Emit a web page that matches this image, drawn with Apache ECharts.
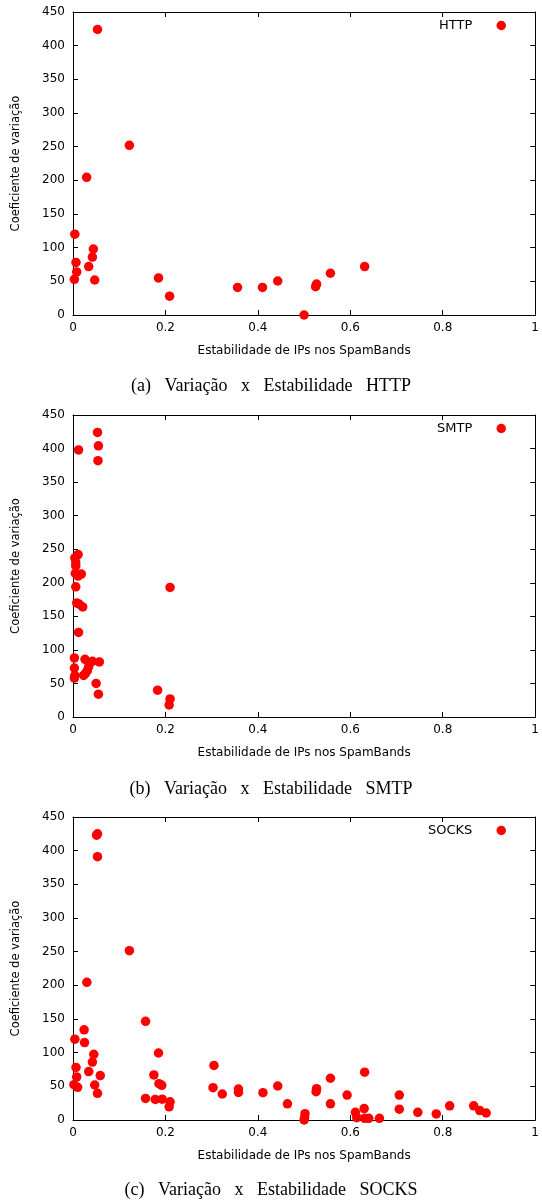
<!DOCTYPE html>
<html>
<head>
<meta charset="utf-8">
<script src="https://cdn.jsdelivr.net/npm/echarts@6/dist/echarts.min.js"></script>
<style>
  html, body { margin: 0; padding: 0; background: #fff; }
  #main { width: 542px; height: 1202px; }
</style>
</head>
<body>
<div id="main"></div>
<script>
// [estabilidade, coeficiente]
var httpPoints = [
  [0.053, 424], [0.122, 252], [0.0295, 204.5], [0.004, 120], [0.044, 98],
  [0.042, 86], [0.0065, 78], [0.034, 72], [0.008, 64], [0.003, 53],
  [0.047, 52], [0.185, 55], [0.209, 28], [0.356, 41], [0.41, 41],
  [0.443, 50.5], [0.5, 0], [0.527, 46], [0.525, 42], [0.557, 62], [0.631, 72]
];
var smtpPoints = [
  [0.053, 424], [0.055, 404], [0.054, 382], [0.012, 398],
  [0.004, 237], [0.011, 242], [0.006, 230], [0.006, 225], [0.005, 214],
  [0.018, 213], [0.011, 210], [0.006, 194], [0.21, 193],
  [0.008, 170], [0.0135, 168], [0.021, 164], [0.012, 126],
  [0.003, 88], [0.003, 73], [0.003, 58], [0.004, 62],
  [0.026, 86], [0.042, 83], [0.057, 82],
  [0.034, 75], [0.031, 69], [0.023, 62], [0.027, 65],
  [0.05, 50], [0.055, 34], [0.183, 40], [0.21, 27], [0.208, 18]
];
var socksPoints = [
  [0.053, 425], [0.051, 423], [0.053, 391], [0.122, 251.5], [0.030, 204.5],
  [0.157, 146.6], [0.024, 134], [0.004, 120], [0.025, 115], [0.045, 97.5],
  [0.185, 99.5], [0.042, 86], [0.0065, 78], [0.034, 72], [0.059, 66],
  [0.008, 64], [0.175, 67], [0.305, 81], [0.002, 52.5], [0.01, 48.5],
  [0.047, 52], [0.053, 39.6], [0.186, 54], [0.192, 51.5], [0.157, 32],
  [0.178, 30.6], [0.193, 31], [0.21, 27], [0.208, 19.5], [0.303, 48],
  [0.323, 38.6], [0.358, 46], [0.358, 41], [0.411, 40.6], [0.443, 50.5],
  [0.464, 24], [0.502, 9.4], [0.5, 0], [0.501, 3], [0.527, 46.5],
  [0.526, 42], [0.557, 62], [0.557, 24], [0.593, 37], [0.611, 11.4],
  [0.614, 3.5], [0.63, 17], [0.631, 71], [0.631, 2.5], [0.64, 2.5],
  [0.663, 2.5], [0.706, 37], [0.706, 16], [0.746, 11.4], [0.786, 9],
  [0.815, 21], [0.867, 21], [0.88, 14], [0.894, 10.4]
];
var seriesNames = ['HTTP', 'SMTP', 'SOCKS'];
var captions = [
  '(a)   Variação   x   Estabilidade   HTTP',
  '(b)   Variação   x   Estabilidade   SMTP',
  '(c)   Variação   x   Estabilidade   SOCKS'
];
var xName = 'Estabilidade de IPs nos SpamBands';
var yName = 'Coeficiente de variação';

var allPoints = [httpPoints, smtpPoints, socksPoints];
var gridTops = [12, 415, 817];
var gridHeights = [303, 302, 303];
var captionTops = [372, 775, 1176];

var font = 'DejaVu Sans';
var grids = [], xAxes = [], yAxes = [], series = [], legends = [], titles = [];

for (var i = 0; i < 3; i++) {
  grids.push({ left: 73, right: 5, top: gridTops[i], height: gridHeights[i] });

  // bottom axis with labels
  xAxes.push({
    type: 'value', gridIndex: i, min: 0, max: 1, interval: 0.2, position: 'bottom',
    name: xName, nameLocation: 'middle', nameGap: 30,
    nameTextStyle: { fontFamily: font, fontSize: 12, color: '#000' },
    axisLine: { onZero: false, lineStyle: { color: '#000', width: 1 } },
    axisTick: { inside: true, length: 5, lineStyle: { color: '#000' } },
    axisLabel: { fontFamily: font, fontSize: 12, color: '#000', margin: 7 },
    splitLine: { show: false }
  });
  // top mirror
  xAxes.push({
    type: 'value', gridIndex: i, min: 0, max: 1, interval: 0.2, position: 'top',
    axisLine: { onZero: false, lineStyle: { color: '#000', width: 1 } },
    axisTick: { inside: true, length: 5, lineStyle: { color: '#000' } },
    axisLabel: { show: false },
    splitLine: { show: false }
  });
  yAxes.push({
    type: 'value', gridIndex: i, min: 0, max: 450, interval: 50, position: 'left',
    name: yName, nameLocation: 'middle', nameGap: 51,
    nameTextStyle: { fontFamily: font, fontSize: 11.5, color: '#000' },
    axisLine: { show: true, onZero: false, lineStyle: { color: '#000', width: 1 } },
    axisTick: { show: true, inside: true, length: 5, lineStyle: { color: '#000' } },
    axisLabel: { fontFamily: font, fontSize: 12, color: '#000', margin: 8 },
    splitLine: { show: false }
  });
  yAxes.push({
    type: 'value', gridIndex: i, min: 0, max: 450, interval: 50, position: 'right',
    axisLine: { show: true, onZero: false, lineStyle: { color: '#000', width: 1 } },
    axisTick: { show: true, inside: true, length: 5, lineStyle: { color: '#000' } },
    axisLabel: { show: false },
    splitLine: { show: false }
  });

  series.push({
    name: seriesNames[i],
    type: 'scatter',
    xAxisIndex: i * 2,
    yAxisIndex: i * 2,
    symbol: 'circle',
    symbolSize: 9.5,
    itemStyle: { color: '#ff0000', opacity: 1 },
    data: allPoints[i]
  });

  legends.push({
    data: [seriesNames[i]],
    right: 31,
    top: gridTops[i] + 2,
    align: 'right',
    icon: 'circle',
    itemWidth: 48,
    itemHeight: 9.5,
    itemGap: 0,
    textStyle: { fontFamily: font, fontSize: 13, color: '#000' },
    selectedMode: false
  });

  titles.push({
    text: captions[i],
    left: 'center',
    top: captionTops[i],
    textStyle: { fontFamily: 'Liberation Serif', fontSize: 18, fontWeight: 'normal', color: '#000' }
  });
}

var myChart = echarts.init(document.getElementById('main'), null, { renderer: 'canvas' });

var option = {
  backgroundColor: '#fff',
  animation: false,
  title: titles,
  legend: legends,
  grid: grids,
  xAxis: xAxes,
  yAxis: yAxes,
  series: series
};

myChart.setOption(option);
</script>
</body>
</html>
